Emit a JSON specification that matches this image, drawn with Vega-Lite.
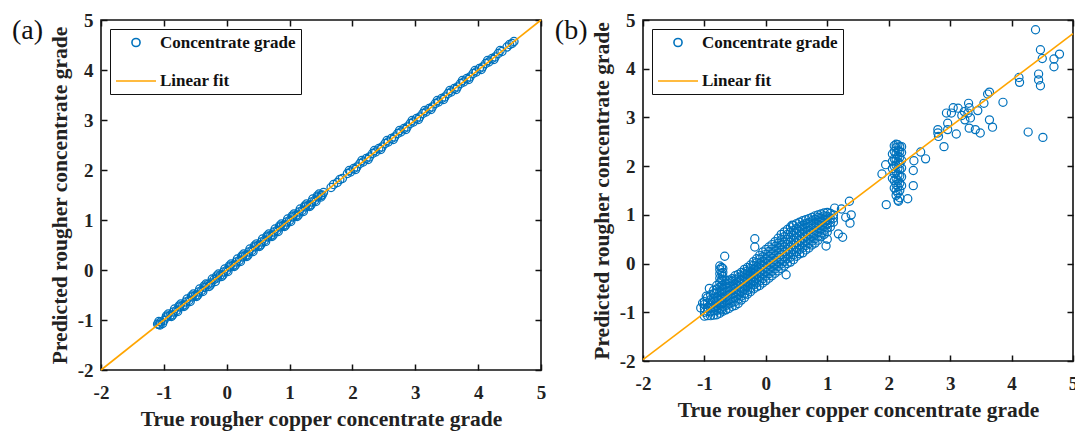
{
"$schema": "https://vega.github.io/schema/vega-lite/v6.json",
"background": "white",
"padding": {"left": 11, "top": 10, "right": 0, "bottom": 0},
"datasets": {
"a": [{"t":-1.1,"p":-1.08},{"t":-1.08,"p":-1.09},{"t":-1.05,"p":-1.04},{"t":-1.0,"p":-1.01},{"t":-0.95,"p":-0.94},{"t":-0.9,"p":-0.91},{"t":-0.85,"p":-0.84},{"t":-0.8,"p":-0.81},{"t":-0.75,"p":-0.74},{"t":-0.7,"p":-0.71},{"t":-0.65,"p":-0.64},{"t":-0.6,"p":-0.61},{"t":-0.55,"p":-0.54},{"t":-0.5,"p":-0.51},{"t":-0.45,"p":-0.44},{"t":-0.4,"p":-0.41},{"t":-0.35,"p":-0.35},{"t":-0.3,"p":-0.29},{"t":-0.25,"p":-0.26},{"t":-0.2,"p":-0.19},{"t":-0.15,"p":-0.16},{"t":-0.1,"p":-0.1},{"t":-0.05,"p":-0.04},{"t":0,"p":-0.01},{"t":0.05,"p":0.06},{"t":0.1,"p":0.09},{"t":0.15,"p":0.16},{"t":0.2,"p":0.19},{"t":0.25,"p":0.26},{"t":0.3,"p":0.29},{"t":0.35,"p":0.36},{"t":0.4,"p":0.39},{"t":0.45,"p":0.46},{"t":0.5,"p":0.49},{"t":0.55,"p":0.56},{"t":0.6,"p":0.59},{"t":0.65,"p":0.66},{"t":0.7,"p":0.69},{"t":0.75,"p":0.76},{"t":0.8,"p":0.79},{"t":0.85,"p":0.86},{"t":0.9,"p":0.89},{"t":0.95,"p":0.96},{"t":1.0,"p":0.99},{"t":1.05,"p":1.06},{"t":1.1,"p":1.09},{"t":1.15,"p":1.16},{"t":1.2,"p":1.19},{"t":1.25,"p":1.26},{"t":1.3,"p":1.29},{"t":1.35,"p":1.36},{"t":1.4,"p":1.39},{"t":1.45,"p":1.46},{"t":1.5,"p":1.49},{"t":1.54,"p":1.55},
{"t":-1.06,"p":-1.1},{"t":-0.96,"p":-0.92},{"t":-0.86,"p":-0.9},{"t":-0.76,"p":-0.72},{"t":-0.66,"p":-0.7},{"t":-0.56,"p":-0.52},{"t":-0.46,"p":-0.5},{"t":-0.36,"p":-0.32},{"t":-0.26,"p":-0.3},{"t":-0.16,"p":-0.12},{"t":-0.06,"p":-0.1},{"t":0.04,"p":0.08},{"t":0.14,"p":0.1},{"t":0.24,"p":0.28},{"t":0.34,"p":0.3},{"t":0.44,"p":0.48},{"t":0.54,"p":0.5},{"t":0.64,"p":0.68},{"t":0.74,"p":0.7},{"t":0.84,"p":0.88},{"t":0.94,"p":0.9},{"t":1.04,"p":1.08},{"t":1.14,"p":1.1},{"t":1.24,"p":1.28},{"t":1.34,"p":1.3},{"t":1.44,"p":1.48},{"t":1.52,"p":1.5},
{"t":-1.08,"p":-1.03},{"t":-1.02,"p":-1.07},{"t":-0.93,"p":-0.88},{"t":-0.88,"p":-0.93},{"t":-0.83,"p":-0.78},{"t":-0.78,"p":-0.83},{"t":-0.73,"p":-0.68},{"t":-0.68,"p":-0.73},{"t":-0.63,"p":-0.58},{"t":-0.58,"p":-0.63},{"t":-0.53,"p":-0.48},{"t":-0.48,"p":-0.53},{"t":-0.43,"p":-0.38},{"t":-0.38,"p":-0.43},{"t":-0.33,"p":-0.28},{"t":-0.28,"p":-0.33},{"t":-0.23,"p":-0.18},{"t":-0.18,"p":-0.23},{"t":-0.13,"p":-0.08},{"t":-0.08,"p":-0.13},{"t":-0.03,"p":0.02},{"t":0.02,"p":-0.03},{"t":0.07,"p":0.12},{"t":0.12,"p":0.07},{"t":0.17,"p":0.22},{"t":0.22,"p":0.17},{"t":0.27,"p":0.32},{"t":0.32,"p":0.27},{"t":0.37,"p":0.42},{"t":0.42,"p":0.37},{"t":0.47,"p":0.52},{"t":0.52,"p":0.47},{"t":0.57,"p":0.62},{"t":0.62,"p":0.57},{"t":0.67,"p":0.72},{"t":0.72,"p":0.67},{"t":0.77,"p":0.82},{"t":0.82,"p":0.77},{"t":0.87,"p":0.92},{"t":0.92,"p":0.87},{"t":0.97,"p":1.02},{"t":1.02,"p":0.97},{"t":1.07,"p":1.12},{"t":1.12,"p":1.07},{"t":1.17,"p":1.22},{"t":1.22,"p":1.17},{"t":1.27,"p":1.32},{"t":1.32,"p":1.27},{"t":1.37,"p":1.42},{"t":1.42,"p":1.37},{"t":1.47,"p":1.52},{"t":1.5,"p":1.46},
{"t":1.66,"p":1.65},{"t":1.7,"p":1.71},{"t":1.76,"p":1.75},{"t":1.8,"p":1.81},{"t":1.84,"p":1.83},
{"t":1.92,"p":1.93},{"t":1.97,"p":1.96},{"t":2.02,"p":2.03},{"t":2.07,"p":2.06},{"t":2.12,"p":2.13},{"t":2.17,"p":2.16},{"t":2.22,"p":2.23},{"t":2.27,"p":2.26},{"t":2.32,"p":2.33},{"t":2.37,"p":2.36},{"t":2.42,"p":2.43},{"t":2.47,"p":2.46},{"t":2.52,"p":2.53},{"t":2.57,"p":2.56},{"t":2.62,"p":2.63},{"t":2.67,"p":2.66},{"t":2.72,"p":2.73},{"t":2.77,"p":2.76},{"t":2.82,"p":2.83},{"t":2.87,"p":2.86},{"t":2.92,"p":2.93},{"t":2.97,"p":2.96},{"t":3.02,"p":3.03},{"t":3.07,"p":3.06},{"t":3.12,"p":3.13},{"t":3.17,"p":3.16},{"t":3.22,"p":3.23},{"t":3.27,"p":3.26},{"t":3.32,"p":3.33},{"t":3.37,"p":3.36},{"t":3.42,"p":3.43},{"t":3.47,"p":3.46},{"t":3.52,"p":3.53},{"t":3.57,"p":3.56},{"t":3.62,"p":3.63},{"t":3.67,"p":3.66},{"t":3.72,"p":3.73},{"t":3.77,"p":3.76},{"t":3.82,"p":3.83},{"t":3.87,"p":3.86},{"t":3.92,"p":3.93},{"t":3.97,"p":3.96},{"t":4.02,"p":4.03},{"t":4.07,"p":4.06},{"t":4.12,"p":4.13},{"t":4.17,"p":4.16},{"t":4.22,"p":4.23},{"t":4.27,"p":4.26},{"t":4.32,"p":4.33},{"t":4.38,"p":4.37},
{"t":1.95,"p":1.99},{"t":2.05,"p":2.01},{"t":2.15,"p":2.19},{"t":2.25,"p":2.21},{"t":2.35,"p":2.39},{"t":2.45,"p":2.41},{"t":2.55,"p":2.59},{"t":2.65,"p":2.61},{"t":2.75,"p":2.79},{"t":2.85,"p":2.81},{"t":2.95,"p":2.99},{"t":3.05,"p":3.01},{"t":3.15,"p":3.19},{"t":3.25,"p":3.21},{"t":3.35,"p":3.39},{"t":3.45,"p":3.41},{"t":3.55,"p":3.59},{"t":3.65,"p":3.61},{"t":3.75,"p":3.79},{"t":3.85,"p":3.81},{"t":3.95,"p":3.99},{"t":4.05,"p":4.01},{"t":4.15,"p":4.19},{"t":4.25,"p":4.21},{"t":4.35,"p":4.39},
{"t":4.46,"p":4.46},{"t":4.5,"p":4.51},{"t":4.54,"p":4.53},{"t":4.57,"p":4.57}],
"b": [
{"t":-1.0,"p":-1.08},{"t":-1.0,"p":-1.0},{"t":-1.0,"p":-0.92},{"t":-1.0,"p":-0.84},{"t":-1.0,"p":-0.78},
{"t":-1.03,"p":-0.81},{"t":-1.06,"p":-0.91},{"t":-0.97,"p":-0.67},{"t":-0.92,"p":-0.51},
{"t":-0.95,"p":-1.07},{"t":-0.95,"p":-0.98},{"t":-0.95,"p":-0.9},{"t":-0.95,"p":-0.81},{"t":-0.95,"p":-0.7},
{"t":-0.9,"p":-1.07},{"t":-0.9,"p":-0.99},{"t":-0.9,"p":-0.91},{"t":-0.9,"p":-0.83},{"t":-0.9,"p":-0.74},{"t":-0.9,"p":-0.64},
{"t":-0.85,"p":-1.06},{"t":-0.85,"p":-0.97},{"t":-0.85,"p":-0.88},{"t":-0.85,"p":-0.8},{"t":-0.85,"p":-0.71},{"t":-0.85,"p":-0.62},{"t":-0.85,"p":-0.55},
{"t":-0.8,"p":-1.05},{"t":-0.8,"p":-0.96},{"t":-0.8,"p":-0.87},{"t":-0.8,"p":-0.78},{"t":-0.8,"p":-0.69},{"t":-0.8,"p":-0.6},{"t":-0.8,"p":-0.52},{"t":-0.8,"p":-0.45},
{"t":-0.75,"p":-1.02},{"t":-0.75,"p":-0.93},{"t":-0.75,"p":-0.84},{"t":-0.75,"p":-0.75},{"t":-0.75,"p":-0.66},{"t":-0.75,"p":-0.57},{"t":-0.75,"p":-0.48},{"t":-0.75,"p":-0.39},{"t":-0.75,"p":-0.3},{"t":-0.75,"p":-0.21},{"t":-0.75,"p":-0.12},{"t":-0.75,"p":-0.05},
{"t":-0.72,"p":-0.95},{"t":-0.72,"p":-0.82},{"t":-0.72,"p":-0.7},{"t":-0.72,"p":-0.58},{"t":-0.72,"p":-0.45},{"t":-0.72,"p":-0.33},{"t":-0.72,"p":-0.2},{"t":-0.72,"p":-0.08},
{"t":-0.7,"p":-0.98},{"t":-0.7,"p":-0.89},{"t":-0.7,"p":-0.8},{"t":-0.7,"p":-0.71},{"t":-0.7,"p":-0.62},{"t":-0.7,"p":-0.53},{"t":-0.7,"p":-0.44},{"t":-0.7,"p":-0.35},{"t":-0.7,"p":-0.26},{"t":-0.7,"p":-0.18},{"t":-0.7,"p":-0.1},
{"t":-0.67,"p":0.15},
{"t":-0.65,"p":-0.95},{"t":-0.65,"p":-0.86},{"t":-0.65,"p":-0.77},{"t":-0.65,"p":-0.68},{"t":-0.65,"p":-0.59},{"t":-0.65,"p":-0.5},{"t":-0.65,"p":-0.42},{"t":-0.65,"p":-0.35},
{"t":-0.6,"p":-0.92},{"t":-0.6,"p":-0.83},{"t":-0.6,"p":-0.74},{"t":-0.6,"p":-0.65},{"t":-0.6,"p":-0.56},{"t":-0.6,"p":-0.47},{"t":-0.6,"p":-0.4},{"t":-0.6,"p":-0.34},
{"t":-0.55,"p":-0.88},{"t":-0.55,"p":-0.8},{"t":-0.55,"p":-0.71},{"t":-0.55,"p":-0.62},{"t":-0.55,"p":-0.53},{"t":-0.55,"p":-0.44},{"t":-0.55,"p":-0.36},{"t":-0.55,"p":-0.31},
{"t":-0.5,"p":-0.86},{"t":-0.5,"p":-0.78},{"t":-0.5,"p":-0.69},{"t":-0.5,"p":-0.6},{"t":-0.5,"p":-0.51},{"t":-0.5,"p":-0.42},{"t":-0.5,"p":-0.33},{"t":-0.5,"p":-0.25},
{"t":-0.45,"p":-0.82},{"t":-0.45,"p":-0.73},{"t":-0.45,"p":-0.64},{"t":-0.45,"p":-0.55},{"t":-0.45,"p":-0.46},{"t":-0.45,"p":-0.37},{"t":-0.45,"p":-0.29},{"t":-0.45,"p":-0.22},
{"t":-0.4,"p":-0.75},{"t":-0.4,"p":-0.67},{"t":-0.4,"p":-0.58},{"t":-0.4,"p":-0.5},{"t":-0.4,"p":-0.41},{"t":-0.4,"p":-0.33},{"t":-0.4,"p":-0.25},{"t":-0.4,"p":-0.18},
{"t":-0.35,"p":-0.7},{"t":-0.35,"p":-0.62},{"t":-0.35,"p":-0.53},{"t":-0.35,"p":-0.45},{"t":-0.35,"p":-0.36},{"t":-0.35,"p":-0.28},{"t":-0.35,"p":-0.2},{"t":-0.35,"p":-0.12},
{"t":-0.3,"p":-0.63},{"t":-0.3,"p":-0.55},{"t":-0.3,"p":-0.46},{"t":-0.3,"p":-0.38},{"t":-0.3,"p":-0.3},{"t":-0.3,"p":-0.22},{"t":-0.3,"p":-0.15},{"t":-0.3,"p":-0.08},
{"t":-0.25,"p":-0.58},{"t":-0.25,"p":-0.5},{"t":-0.25,"p":-0.42},{"t":-0.25,"p":-0.33},{"t":-0.25,"p":-0.25},{"t":-0.25,"p":-0.17},{"t":-0.25,"p":-0.1},{"t":-0.25,"p":-0.03},
{"t":-0.2,"p":-0.52},{"t":-0.2,"p":-0.44},{"t":-0.2,"p":-0.36},{"t":-0.2,"p":-0.28},{"t":-0.2,"p":-0.2},{"t":-0.2,"p":-0.12},{"t":-0.2,"p":-0.04},{"t":-0.2,"p":0.04},
{"t":-0.15,"p":-0.48},{"t":-0.15,"p":-0.4},{"t":-0.15,"p":-0.31},{"t":-0.15,"p":-0.23},{"t":-0.15,"p":-0.15},{"t":-0.15,"p":-0.07},{"t":-0.15,"p":0.02},{"t":-0.15,"p":0.1},
{"t":-0.1,"p":-0.45},{"t":-0.1,"p":-0.36},{"t":-0.1,"p":-0.27},{"t":-0.1,"p":-0.18},{"t":-0.1,"p":-0.09},{"t":-0.1,"p":0.0},{"t":-0.1,"p":0.09},{"t":-0.1,"p":0.17},
{"t":-0.05,"p":-0.4},{"t":-0.05,"p":-0.31},{"t":-0.05,"p":-0.22},{"t":-0.05,"p":-0.13},{"t":-0.05,"p":-0.04},{"t":-0.05,"p":0.05},{"t":-0.05,"p":0.14},{"t":-0.05,"p":0.24},
{"t":0,"p":-0.35},{"t":0,"p":-0.26},{"t":0,"p":-0.17},{"t":0,"p":-0.08},{"t":0,"p":0.01},{"t":0,"p":0.1},{"t":0,"p":0.19},{"t":0,"p":0.29},
{"t":0.05,"p":-0.3},{"t":0.05,"p":-0.21},{"t":0.05,"p":-0.12},{"t":0.05,"p":-0.03},{"t":0.05,"p":0.06},{"t":0.05,"p":0.15},{"t":0.05,"p":0.25},{"t":0.05,"p":0.34},
{"t":0.1,"p":-0.25},{"t":0.1,"p":-0.16},{"t":0.1,"p":-0.07},{"t":0.1,"p":0.02},{"t":0.1,"p":0.11},{"t":0.1,"p":0.2},{"t":0.1,"p":0.3},{"t":0.1,"p":0.39},
{"t":0.15,"p":-0.2},{"t":0.15,"p":-0.11},{"t":0.15,"p":-0.02},{"t":0.15,"p":0.07},{"t":0.15,"p":0.16},{"t":0.15,"p":0.26},{"t":0.15,"p":0.35},{"t":0.15,"p":0.45},
{"t":0.2,"p":-0.15},{"t":0.2,"p":-0.06},{"t":0.2,"p":0.03},{"t":0.2,"p":0.13},{"t":0.2,"p":0.22},{"t":0.2,"p":0.32},{"t":0.2,"p":0.42},{"t":0.2,"p":0.52},
{"t":0.25,"p":-0.1},{"t":0.25,"p":-0.01},{"t":0.25,"p":0.08},{"t":0.25,"p":0.18},{"t":0.25,"p":0.28},{"t":0.25,"p":0.38},{"t":0.25,"p":0.49},{"t":0.25,"p":0.6},
{"t":0.3,"p":-0.05},{"t":0.3,"p":0.04},{"t":0.3,"p":0.14},{"t":0.3,"p":0.24},{"t":0.3,"p":0.34},{"t":0.3,"p":0.44},{"t":0.3,"p":0.55},{"t":0.3,"p":0.65},
{"t":0.35,"p":0.0},{"t":0.35,"p":0.1},{"t":0.35,"p":0.2},{"t":0.35,"p":0.3},{"t":0.35,"p":0.4},{"t":0.35,"p":0.5},{"t":0.35,"p":0.6},{"t":0.35,"p":0.7},
{"t":0.4,"p":0.03},{"t":0.4,"p":0.13},{"t":0.4,"p":0.23},{"t":0.4,"p":0.34},{"t":0.4,"p":0.44},{"t":0.4,"p":0.54},{"t":0.4,"p":0.65},{"t":0.4,"p":0.75},
{"t":0.45,"p":0.08},{"t":0.45,"p":0.18},{"t":0.45,"p":0.28},{"t":0.45,"p":0.38},{"t":0.45,"p":0.48},{"t":0.45,"p":0.58},{"t":0.45,"p":0.68},{"t":0.45,"p":0.78},
{"t":0.5,"p":0.15},{"t":0.5,"p":0.24},{"t":0.5,"p":0.33},{"t":0.5,"p":0.43},{"t":0.5,"p":0.53},{"t":0.5,"p":0.63},{"t":0.5,"p":0.72},{"t":0.5,"p":0.82},
{"t":0.55,"p":0.2},{"t":0.55,"p":0.29},{"t":0.55,"p":0.38},{"t":0.55,"p":0.47},{"t":0.55,"p":0.57},{"t":0.55,"p":0.66},{"t":0.55,"p":0.76},{"t":0.55,"p":0.85},
{"t":0.6,"p":0.22},{"t":0.6,"p":0.32},{"t":0.6,"p":0.42},{"t":0.6,"p":0.51},{"t":0.6,"p":0.61},{"t":0.6,"p":0.7},{"t":0.6,"p":0.79},{"t":0.6,"p":0.88},
{"t":0.65,"p":0.28},{"t":0.65,"p":0.37},{"t":0.65,"p":0.46},{"t":0.65,"p":0.55},{"t":0.65,"p":0.64},{"t":0.65,"p":0.73},{"t":0.65,"p":0.82},{"t":0.65,"p":0.9},
{"t":0.7,"p":0.32},{"t":0.7,"p":0.41},{"t":0.7,"p":0.5},{"t":0.7,"p":0.59},{"t":0.7,"p":0.68},{"t":0.7,"p":0.76},{"t":0.7,"p":0.84},{"t":0.7,"p":0.92},
{"t":0.75,"p":0.38},{"t":0.75,"p":0.46},{"t":0.75,"p":0.55},{"t":0.75,"p":0.63},{"t":0.75,"p":0.72},{"t":0.75,"p":0.8},{"t":0.75,"p":0.88},{"t":0.75,"p":0.95},
{"t":0.8,"p":0.42},{"t":0.8,"p":0.51},{"t":0.8,"p":0.6},{"t":0.8,"p":0.68},{"t":0.8,"p":0.76},{"t":0.8,"p":0.84},{"t":0.8,"p":0.91},{"t":0.8,"p":0.98},
{"t":0.85,"p":0.48},{"t":0.85,"p":0.56},{"t":0.85,"p":0.65},{"t":0.85,"p":0.73},{"t":0.85,"p":0.81},{"t":0.85,"p":0.88},{"t":0.85,"p":0.95},{"t":0.85,"p":1.0},
{"t":0.9,"p":0.55},{"t":0.9,"p":0.63},{"t":0.9,"p":0.71},{"t":0.9,"p":0.78},{"t":0.9,"p":0.86},{"t":0.9,"p":0.93},{"t":0.9,"p":1.02},
{"t":0.95,"p":0.6},{"t":0.95,"p":0.68},{"t":0.95,"p":0.76},{"t":0.95,"p":0.84},{"t":0.95,"p":0.91},{"t":0.95,"p":0.98},{"t":0.95,"p":1.04},
{"t":1.0,"p":0.65},{"t":1.0,"p":0.73},{"t":1.0,"p":0.81},{"t":1.0,"p":0.89},{"t":1.0,"p":0.97},{"t":1.0,"p":1.05},
{"t":1.05,"p":0.75},{"t":1.05,"p":0.84},{"t":1.05,"p":0.93},{"t":1.05,"p":1.03},
{"t":1.1,"p":0.85},{"t":1.1,"p":0.93},{"t":1.1,"p":1.0},
{"t":-0.18,"p":0.51},{"t":-0.18,"p":0.34},{"t":0.33,"p":-0.23},{"t":0.43,"p":0.79},{"t":0.98,"p":0.36},{"t":1.0,"p":0.5},{"t":1.18,"p":0.61},{"t":1.25,"p":0.54},{"t":1.12,"p":1.14},{"t":1.23,"p":1.12},{"t":1.36,"p":1.28},{"t":1.39,"p":1.0},{"t":1.37,"p":0.83},{"t":1.3,"p":0.95},
{"t":2.06,"p":1.75},{"t":2.06,"p":1.95},{"t":2.06,"p":2.1},{"t":2.06,"p":2.25},
{"t":2.09,"p":1.55},{"t":2.09,"p":1.7},{"t":2.09,"p":1.85},{"t":2.09,"p":2.0},{"t":2.09,"p":2.15},{"t":2.09,"p":2.3},{"t":2.09,"p":2.42},
{"t":2.12,"p":1.4},{"t":2.12,"p":1.5},{"t":2.12,"p":1.62},{"t":2.12,"p":1.75},{"t":2.12,"p":1.88},{"t":2.12,"p":2.02},{"t":2.12,"p":2.14},{"t":2.12,"p":2.26},{"t":2.12,"p":2.38},{"t":2.12,"p":2.45},
{"t":2.15,"p":1.3},{"t":2.15,"p":1.45},{"t":2.15,"p":1.58},{"t":2.15,"p":1.7},{"t":2.15,"p":1.82},{"t":2.15,"p":1.95},{"t":2.15,"p":2.08},{"t":2.15,"p":2.2},{"t":2.15,"p":2.32},{"t":2.15,"p":2.44},
{"t":2.18,"p":1.35},{"t":2.18,"p":1.5},{"t":2.18,"p":1.65},{"t":2.18,"p":1.8},{"t":2.18,"p":1.93},{"t":2.18,"p":2.05},{"t":2.18,"p":2.18},{"t":2.18,"p":2.3},{"t":2.18,"p":2.4},
{"t":2.21,"p":1.6},{"t":2.21,"p":1.78},{"t":2.21,"p":1.96},{"t":2.21,"p":2.12},{"t":2.21,"p":2.28},{"t":2.21,"p":2.4},
{"t":2.16,"p":1.28},{"t":1.96,"p":1.21},{"t":1.89,"p":1.84},{"t":1.95,"p":2.03},{"t":2.31,"p":1.33},{"t":2.4,"p":1.6},{"t":2.4,"p":1.91},{"t":2.41,"p":2.11},{"t":2.52,"p":2.29},{"t":2.6,"p":2.15},
{"t":4.39,"p":4.8},{"t":4.47,"p":4.39},{"t":4.5,"p":4.21},{"t":4.78,"p":4.3},{"t":4.69,"p":4.2},{"t":4.69,"p":4.04},{"t":4.44,"p":3.89},{"t":4.44,"p":3.77},{"t":4.47,"p":3.65},{"t":4.12,"p":3.82},{"t":4.13,"p":3.72},{"t":4.27,"p":2.7},{"t":4.51,"p":2.59},{"t":3.86,"p":3.31},{"t":3.64,"p":3.52},{"t":3.61,"p":3.48},{"t":3.55,"p":3.29},{"t":3.45,"p":3.14},{"t":3.49,"p":2.68},{"t":3.41,"p":2.75},{"t":3.3,"p":3.29},{"t":3.31,"p":3.2},{"t":3.29,"p":3.09},{"t":3.24,"p":2.95},{"t":3.31,"p":2.78},{"t":3.23,"p":3.12},{"t":3.13,"p":3.19},{"t":3.05,"p":3.2},{"t":3.02,"p":3.09},{"t":2.94,"p":3.09},{"t":2.96,"p":2.88},{"t":2.96,"p":2.75},{"t":3.1,"p":2.66},{"t":2.8,"p":2.75},{"t":2.8,"p":2.68},{"t":2.81,"p":2.61},{"t":2.9,"p":2.4},{"t":3.64,"p":2.95},{"t":3.69,"p":2.8},{"t":3.33,"p":2.99},{"t":3.19,"p":3.04}],
"fa": [{"t":-2,"p":-2},{"t":5,"p":5}],
"fb": [{"t":-2,"p":-1.97},{"t":5,"p":4.72}]
},
"spacing": 102,
"bounds": "flush",
"resolve": {"scale": {"color": "independent", "shape": "independent", "size": "independent"}, "legend": {"color": "independent", "shape": "independent", "size": "independent"}},
"hconcat": [
{
"width": 440, "height": 350,
"title": {"text": "(a)", "orient": "left", "anchor": "end", "angle": 0, "align": "right", "baseline": "top", "fontSize": 28, "fontWeight": "normal", "font": "Liberation Serif", "color": "#111", "offset": -25, "dy": 6},
"layer": [
{"data": {"name": "a"},
"mark": {"type": "point", "filled": false, "strokeWidth": 1.3, "opacity": 1},
"encoding": {
"x": {"field": "t", "type": "quantitative", "scale": {"domain": [-2, 5], "nice": false, "zero": false}, "axis": {"orient": "bottom", "values": [-2,-1,0,1,2,3,4,5], "labelExpr": "'' + datum.value", "title": "True rougher copper concentrate grade", "labelPadding": 19, "titlePadding": 6}},
"y": {"field": "p", "type": "quantitative", "scale": {"domain": [-2, 5], "nice": false, "zero": false}, "axis": {"orient": "left", "values": [-2,-1,0,1,2,3,4,5], "labelExpr": "'' + datum.value", "title": "Predicted rougher concentrate grade", "labelPadding": 14, "titlePadding": 6}},
"color": {"datum": "Concentrate grade", "type": "nominal", "scale": {"domain": ["Concentrate grade", "Linear fit"], "range": ["#0072BD", "#FFA500"]}},
"shape": {"datum": "Concentrate grade", "type": "nominal", "scale": {"domain": ["Concentrate grade", "Linear fit"], "range": ["circle", "stroke"]}},
"size": {"datum": "Concentrate grade", "type": "nominal", "scale": {"domain": ["Concentrate grade", "Linear fit"], "range": [66, 1600]}}
}},
{"data": {"name": "fa"},
"mark": {"type": "line", "strokeWidth": 1.6},
"encoding": {
"x": {"field": "t", "type": "quantitative", "axis": {"orient": "top", "values": [-2,-1,0,1,2,3,4,5], "labels": false, "title": null}},
"y": {"field": "p", "type": "quantitative", "axis": {"orient": "right", "values": [-2,-1,0,1,2,3,4,5], "labels": false, "title": null}},
"color": {"datum": "Linear fit", "type": "nominal"}
}}
],
"resolve": {"axis": {"x": "independent", "y": "independent"}}
},
{
"width": 430, "height": 341,
"title": {"text": "(b)", "orient": "left", "anchor": "end", "angle": 0, "align": "right", "baseline": "top", "fontSize": 28, "fontWeight": "normal", "font": "Liberation Serif", "color": "#111", "offset": -29, "dy": 6},
"layer": [
{"data": {"name": "b"},
"mark": {"type": "point", "filled": false, "strokeWidth": 1.2, "opacity": 1},
"encoding": {
"x": {"field": "t", "type": "quantitative", "scale": {"domain": [-2, 5], "nice": false, "zero": false}, "axis": {"orient": "bottom", "values": [-2,-1,0,1,2,3,4,5], "labelExpr": "'' + datum.value", "title": "True rougher copper concentrate grade", "labelPadding": 19, "titlePadding": 6}},
"y": {"field": "p", "type": "quantitative", "scale": {"domain": [-2, 5], "nice": false, "zero": false}, "axis": {"orient": "left", "values": [-2,-1,0,1,2,3,4,5], "labelExpr": "'' + datum.value", "title": "Predicted rougher concentrate grade", "labelPadding": 14, "titlePadding": 6}},
"color": {"datum": "Concentrate grade", "type": "nominal", "scale": {"domain": ["Concentrate grade", "Linear fit"], "range": ["#0072BD", "#FFA500"]}},
"shape": {"datum": "Concentrate grade", "type": "nominal", "scale": {"domain": ["Concentrate grade", "Linear fit"], "range": ["circle", "stroke"]}},
"size": {"datum": "Concentrate grade", "type": "nominal", "scale": {"domain": ["Concentrate grade", "Linear fit"], "range": [66, 1600]}}
}},
{"data": {"name": "fb"},
"mark": {"type": "line", "strokeWidth": 1.6},
"encoding": {
"x": {"field": "t", "type": "quantitative", "axis": {"orient": "top", "values": [-2,-1,0,1,2,3,4,5], "labels": false, "title": null}},
"y": {"field": "p", "type": "quantitative", "axis": {"orient": "right", "values": [-2,-1,0,1,2,3,4,5], "labels": false, "title": null}},
"color": {"datum": "Linear fit", "type": "nominal"}
}}
],
"resolve": {"axis": {"x": "independent", "y": "independent"}}
}
],
"config": {
"font": "Liberation Serif",
"view": {"stroke": "#111", "strokeWidth": 1.6},
"axis": {"domain": false, "grid": false, "tickColor": "#111", "tickSize": -6, "tickWidth": 1.5, "labelFont": "Liberation Serif", "labelFontWeight": "bold", "labelFontSize": 19, "labelColor": "#222", "labelFlush": false, "labelOverlap": false, "titleFont": "Liberation Serif", "titleFontWeight": "bold", "titleFontSize": 21.5, "titleColor": "#222"},
"legend": {"orient": "top-left", "offset": 9, "padding": 5, "strokeColor": "#111", "fillColor": "white", "labelFont": "Liberation Serif", "labelFontWeight": "bold", "labelFontSize": 17, "labelColor": "#111", "labelOffset": 3, "rowPadding": 9, "symbolStrokeWidth": 1.6, "titleFontSize": 0}
}
}
